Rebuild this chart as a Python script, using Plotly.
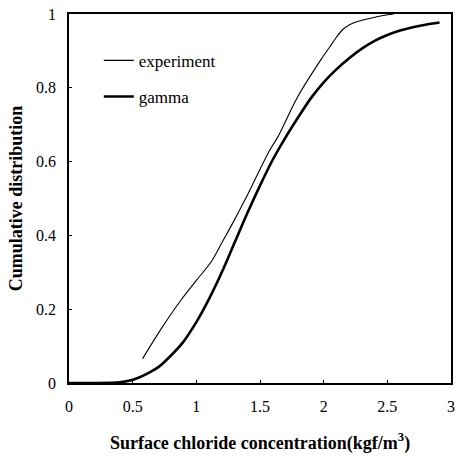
import plotly.graph_objects as go

exp_x = [0.578, 0.73, 0.88, 1.0, 1.12, 1.21, 1.29, 1.38, 1.575, 1.64, 1.795,
         1.976, 2.05, 2.1, 2.15, 2.2, 2.26, 2.35, 2.47, 2.55]
exp_y = [0.066, 0.15, 0.225, 0.278, 0.33, 0.386, 0.436, 0.495, 0.63, 0.667, 0.775,
         0.875, 0.912, 0.937, 0.958, 0.97, 0.979, 0.987, 0.996, 1.0]

# Gamma fit cumulative distribution
gam_x = [0.0, 0.2, 0.4, 0.47, 0.55, 0.63, 0.71, 0.785, 0.89, 1.0, 1.1, 1.2, 1.3, 1.4,
         1.5, 1.6, 1.7, 1.8, 1.9, 2.0, 2.1, 2.2, 2.3, 2.4, 2.5, 2.6, 2.7, 2.8, 2.91]
gam_y = [0.0, 0.0, 0.002, 0.006, 0.015, 0.028, 0.045, 0.069, 0.108, 0.165, 0.228, 0.30, 0.38,
         0.46, 0.535, 0.605, 0.665, 0.72, 0.772, 0.815, 0.85, 0.88, 0.906, 0.927,
         0.943, 0.955, 0.964, 0.971, 0.977]

x_ticks = [0, 0.5, 1, 1.5, 2, 2.5, 3]
x_tick_labels = ["0", "0.5", "1", "1.5", "2", "2.5", "3"]
y_ticks = [0, 0.2, 0.4, 0.6, 0.8, 1]
y_tick_labels = ["0", "0.2", "0.4", "0.6", "0.8", "1"]

SERIF = "Liberation Serif, Times New Roman, serif"

fig = go.Figure()
fig.add_trace(go.Scatter(x=exp_x, y=exp_y, mode="lines", name="experiment",
                         legendgroup="a",
                         line=dict(color="black", width=1.1, shape="spline", smoothing=0.9)))
fig.add_trace(go.Scatter(x=gam_x, y=gam_y, mode="lines", name="gamma",
                         legendgroup="b",
                         line=dict(color="black", width=2.6, shape="spline", smoothing=0.8)))

fig.update_layout(
    width=457, height=463,
    margin=dict(l=69, r=2, t=14, b=80),
    paper_bgcolor="white", plot_bgcolor="white",
    font=dict(family=SERIF, size=16, color="black"),
    showlegend=True,
    legend=dict(x=0.078, y=0.922, xanchor="left", yanchor="top",
                bgcolor="rgba(0,0,0,0)", font=dict(size=17, family=SERIF),
                tracegroupgap=11, itemwidth=30),
    xaxis=dict(range=[0, 3], tickvals=x_ticks, ticktext=x_tick_labels,
               showgrid=False, zeroline=False, showline=True, linecolor="black",
               linewidth=1.5, mirror=True, ticks="inside", ticklen=3,
               tickcolor="black", ticklabelstandoff=8,
               title=dict(text="<b>Surface chloride concentration(kgf/m<sup>3</sup>)</b>",
                          font=dict(size=18, family=SERIF), standoff=22)),
    yaxis=dict(range=[0, 1], tickvals=y_ticks, ticktext=y_tick_labels,
               showgrid=False, zeroline=False, showline=True, linecolor="black",
               linewidth=1.5, mirror=True, ticks="inside", ticklen=3,
               tickcolor="black", ticklabelstandoff=8,
               title=dict(text="<b>Cumulative distribution</b>",
                          font=dict(size=18, family=SERIF), standoff=9)),
)

fig.write_html("out.html")
